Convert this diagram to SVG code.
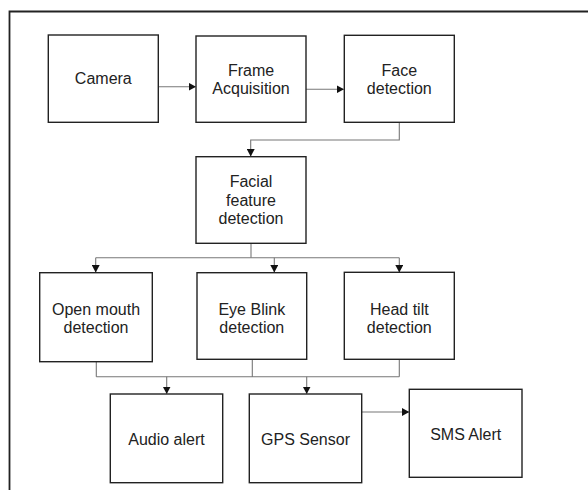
<svg xmlns="http://www.w3.org/2000/svg" width="588" height="490" viewBox="0 0 588 490">
<style>
.box{fill:#fff;stroke:#222;stroke-width:1.4}
.lbl{font-family:"Liberation Sans",Arial,sans-serif;font-size:16px;fill:#222;text-anchor:middle}
.con{fill:none;stroke:#777;stroke-width:1.1}
</style>
<defs>
<marker id="ah" markerWidth="8" markerHeight="8" refX="7" refY="4" orient="auto" markerUnits="userSpaceOnUse">
<path d="M0,0 L7.5,4 L0,8 Z" fill="#111"/>
</marker>
</defs>
<rect width="588" height="490" fill="#fff"/>
<path d="M9.5,500 V11.5 H600" fill="none" stroke="#222" stroke-width="1.8"/>
<g id="connectors">
<path class="con" d="M158,86.7 H195.5" marker-end="url(#ah)"/>
<path class="con" d="M306,89.3 H343.5" marker-end="url(#ah)"/>
<path class="con" d="M399.3,122 V140 H250.7 V156" marker-end="url(#ah)"/>
<path class="con" d="M251,243.3 V257.7"/>
<path class="con" d="M95.7,257.7 H399.3"/>
<path class="con" d="M95.7,257.7 V272" marker-end="url(#ah)"/>
<path class="con" d="M274.3,257.7 V272" marker-end="url(#ah)"/>
<path class="con" d="M399.3,257.7 V272" marker-end="url(#ah)"/>
<path class="con" d="M96.3,361.7 V376.7 M252.3,359.3 V376.7 M399.3,359.3 V376.7 M96.3,376.7 H399.3"/>
<path class="con" d="M166.7,376.7 V393.5" marker-end="url(#ah)"/>
<path class="con" d="M306.7,376.7 V393.5" marker-end="url(#ah)"/>
<path class="con" d="M361.7,412 H408.8" marker-end="url(#ah)"/>
</g>
<g id="camera">
<rect class="box" x="48.3" y="35" width="110" height="87.3"/>
<text class="lbl" x="103.3" y="84">Camera</text>
</g>
<g id="frame-acquisition">
<rect class="box" x="196" y="36" width="110" height="86.3"/>
<text class="lbl" x="251" y="75.5">Frame</text>
<text class="lbl" x="251" y="93.8">Acquisition</text>
</g>
<g id="face-detection">
<rect class="box" x="344.3" y="35.3" width="110" height="87"/>
<text class="lbl" x="399.3" y="75.5">Face</text>
<text class="lbl" x="399.3" y="93.8">detection</text>
</g>
<g id="facial-feature-detection">
<rect class="box" x="196" y="156.7" width="110" height="86.6"/>
<text class="lbl" x="251" y="187.2">Facial</text>
<text class="lbl" x="251" y="205.5">feature</text>
<text class="lbl" x="251" y="224">detection</text>
</g>
<g id="open-mouth-detection">
<rect class="box" x="39.7" y="272.7" width="112.6" height="89"/>
<text class="lbl" x="96" y="314.5">Open mouth</text>
<text class="lbl" x="96" y="332.5">detection</text>
</g>
<g id="eye-blink-detection">
<rect class="box" x="197" y="272.7" width="109.7" height="86.6"/>
<text class="lbl" x="251.8" y="314.5">Eye Blink</text>
<text class="lbl" x="251.8" y="332.5">detection</text>
</g>
<g id="head-tilt-detection">
<rect class="box" x="344.3" y="272.3" width="110" height="87"/>
<text class="lbl" x="399.3" y="314.5">Head tilt</text>
<text class="lbl" x="399.3" y="332.5">detection</text>
</g>
<g id="audio-alert">
<rect class="box" x="110.3" y="394" width="112.4" height="88.7"/>
<text class="lbl" x="166.5" y="444.5">Audio alert</text>
</g>
<g id="gps-sensor">
<rect class="box" x="249.3" y="394" width="112.4" height="88.7"/>
<text class="lbl" x="305.5" y="444.5">GPS Sensor</text>
</g>
<g id="sms-alert">
<rect class="box" x="409.3" y="389.3" width="112.7" height="88"/>
<text class="lbl" x="465.7" y="439.5">SMS Alert</text>
</g>
</svg>
